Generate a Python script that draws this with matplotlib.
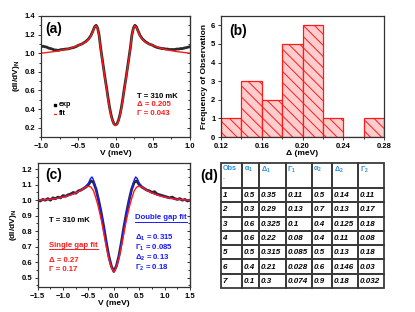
import matplotlib
matplotlib.use("Agg")
import matplotlib.pyplot as plt
import numpy as np
from matplotlib.patches import Rectangle
from matplotlib.ticker import MultipleLocator

plt.rcParams['font.family'] = ['Liberation Sans', 'DejaVu Sans']
plt.rcParams['font.weight'] = 'bold'
plt.rcParams['mathtext.default'] = 'regular'
plt.rcParams['hatch.linewidth'] = 0.7

# ---------------- data ----------------
# panel (a)
va_fit = [-1.0, -0.9, -0.8, -0.7, -0.6, -0.5, -0.45, -0.4, -0.36, -0.33, -0.3, -0.28, -0.26,
          -0.24, -0.22, -0.2, -0.18, -0.16, -0.14, -0.12, -0.1, -0.08, -0.06, -0.04, -0.02, 0.0,
          0.02, 0.04, 0.06, 0.08, 0.1, 0.12, 0.14, 0.16, 0.18, 0.2, 0.22, 0.24, 0.26, 0.28,
          0.3, 0.33, 0.36, 0.4, 0.45, 0.5, 0.6, 0.7, 0.8, 0.9, 1.0]
ga_fit = [1.00, 1.01, 1.02, 1.035, 1.055, 1.085, 1.10, 1.12, 1.15, 1.185, 1.24, 1.28, 1.295,
          1.265, 1.19, 1.05, 0.94, 0.83, 0.72, 0.62, 0.51, 0.41, 0.33, 0.275, 0.235, 0.225,
          0.235, 0.275, 0.33, 0.41, 0.51, 0.62, 0.72, 0.83, 0.94, 1.05, 1.19, 1.265, 1.295, 1.28,
          1.24, 1.185, 1.15, 1.12, 1.10, 1.085, 1.055, 1.035, 1.02, 1.01, 1.00]
va_exp = [-1.0, -0.97, -0.95, -0.92, -0.9, -0.87, -0.85, -0.82, -0.8, -0.77, -0.75, -0.72, -0.7,
          -0.67, -0.65, -0.62, -0.6, -0.57, -0.55, -0.52, -0.5, -0.45, -0.4, -0.36, -0.33, -0.3,
          -0.28, -0.26, -0.24, -0.22, -0.2, -0.18, -0.16, -0.14, -0.12, -0.1, -0.08, -0.06, -0.04,
          -0.02, 0.0, 0.02, 0.04, 0.06, 0.08, 0.1, 0.12, 0.14, 0.16, 0.18, 0.2, 0.22, 0.24, 0.26,
          0.28, 0.3, 0.33, 0.36, 0.4, 0.45, 0.5, 0.52, 0.55, 0.57, 0.6, 0.62, 0.65, 0.67, 0.7,
          0.72, 0.75, 0.77, 0.8, 0.82, 0.85, 0.87, 0.9, 0.92, 0.95, 0.97, 1.0]
ga_exp = [1.07, 1.075, 1.07, 1.065, 1.055, 1.05, 1.045, 1.035, 1.035, 1.03, 1.035, 1.04, 1.04,
          1.045, 1.045, 1.05, 1.055, 1.06, 1.065, 1.075, 1.085, 1.10, 1.125, 1.155, 1.19, 1.245,
          1.285, 1.30, 1.27, 1.195, 1.06, 0.95, 0.84, 0.73, 0.63, 0.52, 0.42, 0.34, 0.28, 0.24,
          0.23, 0.24, 0.28, 0.34, 0.42, 0.52, 0.63, 0.73, 0.84, 0.95, 1.06, 1.195, 1.27, 1.30,
          1.285, 1.245, 1.19, 1.155, 1.125, 1.10, 1.085, 1.075, 1.065, 1.06, 1.055, 1.05, 1.05,
          1.045, 1.045, 1.04, 1.04, 1.04, 1.04, 1.045, 1.045, 1.05, 1.05, 1.055, 1.06, 1.065, 1.07]

# panel (b)
bin_edges = [0.12, 0.14, 0.16, 0.18, 0.20, 0.22, 0.24, 0.26, 0.28]
counts = [1, 3, 2, 5, 6, 1, 0, 1]

# panel (c)
vc_fit = [-1.5, -1.35, -1.2, -1.1, -1.0, -0.9, -0.8, -0.7, -0.62, -0.55, -0.5, -0.46, -0.43,
          -0.4, -0.36, -0.32, -0.28, -0.24, -0.2, -0.16, -0.13, -0.1, -0.06, -0.03, 0.0,
          0.03, 0.06, 0.1, 0.13, 0.16, 0.2, 0.24, 0.28, 0.32, 0.36, 0.4, 0.43, 0.46, 0.5,
          0.55, 0.62, 0.7, 0.8, 0.9, 1.0, 1.1, 1.2, 1.35, 1.5]
gc_double = [1.0, 1.003, 1.008, 1.013, 1.02, 1.03, 1.04, 1.055, 1.07, 1.09, 1.11, 1.14, 1.15,
             1.13, 1.08, 1.03, 0.97, 0.90, 0.83, 0.75, 0.69, 0.64, 0.59, 0.56, 0.54,
             0.56, 0.59, 0.64, 0.69, 0.75, 0.83, 0.90, 0.97, 1.03, 1.08, 1.13, 1.15, 1.14, 1.11,
             1.09, 1.07, 1.055, 1.04, 1.03, 1.02, 1.013, 1.008, 1.003, 1.0]
vc_single = [-1.5, -1.35, -1.2, -1.1, -1.0, -0.9, -0.8, -0.7, -0.62, -0.55, -0.5, -0.45,
             -0.4, -0.36, -0.32, -0.28, -0.24, -0.2, -0.16, -0.13, -0.1, -0.06, -0.03, 0.0,
             0.03, 0.06, 0.1, 0.13, 0.16, 0.2, 0.24, 0.28, 0.32, 0.36, 0.4, 0.45, 0.5, 0.55,
             0.62, 0.7, 0.8, 0.9, 1.0, 1.1, 1.2, 1.35, 1.5]
gc_single = [1.0, 1.003, 1.008, 1.013, 1.02, 1.028, 1.04, 1.055, 1.07, 1.085, 1.09, 1.085,
             1.06, 1.02, 0.975, 0.92, 0.86, 0.79, 0.72, 0.67, 0.625, 0.58, 0.555, 0.54,
             0.555, 0.58, 0.625, 0.67, 0.72, 0.79, 0.86, 0.92, 0.975, 1.02, 1.06, 1.085, 1.09,
             1.085, 1.07, 1.055, 1.04, 1.028, 1.02, 1.013, 1.008, 1.003, 1.0]
vc_exp = [-1.5, -1.45, -1.4, -1.35, -1.3, -1.25, -1.2, -1.15, -1.1, -1.05, -1.0, -0.95, -0.9,
          -0.85, -0.8, -0.75, -0.7, -0.65, -0.6, -0.55, -0.5, -0.45, -0.4, -0.35, -0.3, -0.25,
          -0.2, -0.15, -0.1, -0.05, 0.0, 0.05, 0.1, 0.15, 0.2, 0.25, 0.3, 0.35, 0.4, 0.45, 0.5,
          0.55, 0.6, 0.65, 0.7, 0.75, 0.8, 0.85, 0.9, 0.95, 1.0, 1.05, 1.1, 1.15, 1.2, 1.25, 1.3,
          1.35, 1.4, 1.45, 1.5]
gc_exp = [1.0, 0.995, 1.005, 1.0, 1.01, 1.0, 1.015, 1.01, 1.02, 1.015, 1.03, 1.025, 1.035,
          1.04, 1.05, 1.045, 1.06, 1.065, 1.075, 1.085, 1.10, 1.125, 1.115, 1.07, 1.0, 0.92,
          0.83, 0.73, 0.64, 0.575, 0.54, 0.575, 0.64, 0.73, 0.83, 0.92, 1.0, 1.07, 1.115,
          1.125, 1.10, 1.085, 1.075, 1.065, 1.06, 1.05, 1.055, 1.04, 1.035, 1.03, 1.025, 1.02,
          1.015, 1.02, 1.01, 1.005, 1.01, 1.0, 1.005, 0.995, 1.0]

# panel (d) table
col_labels = ['Obs\n.', r'$\alpha_1$', r'$\Delta_1$', r'$\Gamma_1$', r'$\alpha_2$', r'$\Delta_2$', r'$\Gamma_2$']
obs = ['1', '2', '3', '4', '5', '6', '7']
alpha1 = ['0.5', '0.3', '0.6', '0.6', '0.5', '0.4', '0.1']
delta1 = ['0.35', '0.29', '0.325', '0.22', '0.315', '0.21', '0.3']
gamma1 = ['0.11', '0.13', '0.1', '0.08', '0.085', '0.028', '0.074']
alpha2 = ['0.5', '0.7', '0.4', '0.4', '0.5', '0.6', '0.9']
delta2 = ['0.14', '0.13', '0.125', '0.11', '0.13', '0.146', '0.18']
gamma2 = ['0.11', '0.17', '0.18', '0.08', '0.18', '0.03', '0.032']

# ---------------- figure ----------------
W, H = 415, 312
fig = plt.figure(figsize=(W / 100, H / 100), dpi=100)
RED = '#ff1a1a'
BLUE = '#1a1aff'
DARK = '#2a2a2a'
TB = '#2c8fd6'
fs_tick = 5.5
fs_lab = 6.0
fs_txt = 5.6


def style(ax):
    for s in ax.spines.values():
        s.set_color('#333333')
        s.set_linewidth(0.9)
    ax.tick_params(which='both', direction='out', top=False, right=False, labelsize=fs_tick,
                   width=0.7, colors='#333333', labelcolor='black', pad=1.5)
    ax.tick_params(which='major', length=2.5)
    ax.tick_params(which='minor', length=1.5)
    for lab in ax.get_xticklabels() + ax.get_yticklabels():
        lab.set_fontweight('bold')


def mirror(ax):
    ax2 = ax.secondary_yaxis('right')
    ax2.tick_params(which='both', direction='in', labelright=False, width=0.7, colors='#333333')
    ax2.tick_params(which='major', length=2.5)
    ax2.tick_params(which='minor', length=1.5)
    return ax2


def px_axes(x0, y0, x1, y1):
    return fig.add_axes([x0 / W, 1 - y1 / H, (x1 - x0) / W, (y1 - y0) / H])


# (a)
axa = px_axes(41, 16, 190, 137)
axa.plot(va_exp, ga_exp, color=DARK, lw=2.0, solid_joinstyle='round')
axa.plot(va_fit, ga_fit, color=RED, lw=1.0)
axa.set_xlim(-1.0, 1.0)
axa.set_ylim(0.1, 1.4)
axa.xaxis.set_major_locator(MultipleLocator(0.5))
axa.xaxis.set_minor_locator(MultipleLocator(0.25))
axa.yaxis.set_major_locator(MultipleLocator(0.2))
axa.yaxis.set_minor_locator(MultipleLocator(0.1))
style(axa)
sa = mirror(axa)
sa.yaxis.set_major_locator(MultipleLocator(0.2))
sa.yaxis.set_minor_locator(MultipleLocator(0.1))
axa.set_xlabel('V (meV)', fontsize=fs_lab, fontweight='bold', labelpad=0.5)
axa.set_ylabel('(dI/dV)$_N$', fontsize=fs_lab, fontweight='bold', labelpad=2)
axa.text(0.03, 0.89, '(a)', transform=axa.transAxes, fontsize=10, fontweight='bold', va='center')
axa.plot([-0.81], [0.449], 's', color='black', ms=1.6)
axa.text(-0.76, 0.449, 'exp', fontsize=fs_txt - 0.4, fontweight='bold', va='center')
axa.plot([-0.825, -0.795], [0.348, 0.348], color=RED, lw=0.9)
axa.text(-0.76, 0.348, 'fit', fontsize=fs_txt - 0.4, fontweight='bold', va='center')
axa.text(0.295, 0.53, 'T = 310 mK', fontsize=fs_txt, fontweight='bold', va='center')
axa.text(0.295, 0.445, 'Δ = 0.205', fontsize=fs_txt, fontweight='bold', va='center', color=RED)
axa.text(0.295, 0.348, 'Γ = 0.043', fontsize=fs_txt, fontweight='bold', va='center', color=RED)

# (b)
axb = px_axes(221, 16, 384, 137)
widths = np.diff(bin_edges)
axb.bar(bin_edges[:-1], counts, width=widths, align='edge', facecolor='#ffcdcd',
        edgecolor=RED, hatch='\\\\\\', linewidth=0.9)
axb.set_xlim(0.12, 0.28)
axb.set_ylim(0, 6.5)
axb.xaxis.set_major_locator(MultipleLocator(0.04))
axb.xaxis.set_minor_locator(MultipleLocator(0.02))
axb.yaxis.set_major_locator(MultipleLocator(1))
axb.xaxis.set_major_formatter(matplotlib.ticker.FormatStrFormatter('%.2f'))
style(axb)
axb.set_xlabel('Δ (meV)', fontsize=fs_lab, fontweight='bold', labelpad=0.5)
axb.set_ylabel('Frequency of Observation', fontsize=fs_lab, fontweight='bold', labelpad=2)
axb.text(0.05, 0.88, '(b)', transform=axb.transAxes, fontsize=10, fontweight='bold', va='center')

# (c)
axc = px_axes(37.7, 163, 190, 287)
axc.plot(vc_exp, gc_exp, color=DARK, lw=2.0, solid_joinstyle='round')
axc.plot(vc_fit, gc_double, color=BLUE, lw=1.0)
axc.plot(vc_single, gc_single, color=RED, lw=1.0)
axc.set_xlim(-1.5, 1.5)
axc.set_ylim(0.44, 1.24)
axc.xaxis.set_major_locator(MultipleLocator(0.5))
axc.xaxis.set_minor_locator(MultipleLocator(0.25))
axc.yaxis.set_major_locator(MultipleLocator(0.1))
axc.yaxis.set_minor_locator(MultipleLocator(0.05))
style(axc)
sc = mirror(axc)
sc.yaxis.set_major_locator(MultipleLocator(0.1))
sc.yaxis.set_minor_locator(MultipleLocator(0.05))
axc.set_xlabel('V (meV)', fontsize=fs_lab, fontweight='bold', labelpad=0.5)
axc.set_ylabel('(dI/dV)$_N$', fontsize=fs_lab, fontweight='bold', labelpad=2)
axc.text(0.048, 0.905, '(c)', transform=axc.transAxes, fontsize=10, fontweight='bold', va='center')
axc.text(-1.27, 0.867, 'T = 310 mK', fontsize=fs_txt, fontweight='bold', va='center')
t1 = axc.text(-1.27, 0.71, 'Single gap fit', fontsize=fs_txt, fontweight='bold', va='center', color=RED)
axc.text(-1.27, 0.612, 'Δ = 0.27', fontsize=fs_txt, fontweight='bold', va='center', color=RED)
axc.text(-1.27, 0.554, 'Γ = 0.17', fontsize=fs_txt, fontweight='bold', va='center', color=RED)
t2 = axc.text(0.42, 0.887, 'Double gap fit', fontsize=fs_txt, fontweight='bold', va='center', color=BLUE)
axc.text(0.42, 0.759, r'$\Delta_1$ = 0.315', fontsize=fs_txt, fontweight='bold', va='center', color=BLUE)
axc.text(0.42, 0.694, r'$\Gamma_1$ = 0.085', fontsize=fs_txt, fontweight='bold', va='center', color=BLUE)
axc.text(0.42, 0.627, r'$\Delta_2$ = 0.13', fontsize=fs_txt, fontweight='bold', va='center', color=BLUE)
axc.text(0.42, 0.563, r'$\Gamma_2$ = 0.18', fontsize=fs_txt, fontweight='bold', va='center', color=BLUE)

fig.canvas.draw()
r = fig.canvas.get_renderer()
inv = axc.transData.inverted()
for t, c in [(t1, RED), (t2, BLUE)]:
    bb = t.get_window_extent(renderer=r)
    (xa, ya), (xb, yb) = inv.transform([[bb.x0, bb.y0], [bb.x1, bb.y0]])
    axc.plot([xa, xb], [ya - 0.004, ya - 0.004], color=c, lw=0.7)

# (d) table
col_w = [21.3, 17.0, 26.4, 26.0, 20.3, 26.3, 26.0]
head_h = 25.0
row_h = 14.3
axd = px_axes(221, 163, 384.3, 288)
tot_w = sum(col_w)
tot_h = head_h + row_h * len(obs)
axd.set_xlim(0, tot_w)
axd.set_ylim(tot_h, 0)
axd.axis('off')
edges = np.concatenate([[0], np.cumsum(col_w)])
rows = list(zip(obs, alpha1, delta1, gamma1, alpha2, delta2, gamma2))
for j in range(len(col_w)):
    axd.add_patch(Rectangle((edges[j], 0), col_w[j], head_h, fill=False,
                            edgecolor='#3a3a3a', lw=1.3, clip_on=False))
    axd.text(edges[j] + 1.5, 2.0, col_labels[j], color=TB, fontsize=5.2, fontweight='bold',
             va='top', ha='left', linespacing=1.5)
    for i, row in enumerate(rows):
        y0 = head_h + i * row_h
        axd.add_patch(Rectangle((edges[j], y0), col_w[j], row_h, fill=False,
                                edgecolor='#3a3a3a', lw=1.3, clip_on=False))
        axd.text(edges[j] + 1.5, y0 + row_h / 2 + 0.5, row[j], fontsize=5.8, fontweight='bold',
                 fontstyle='italic', va='center', ha='left')

fig.text(200 / W, 1 - 176 / H, '(d)', fontsize=10, fontweight='bold', va='center', ha='left')

fig.savefig('out.png', dpi=100)
